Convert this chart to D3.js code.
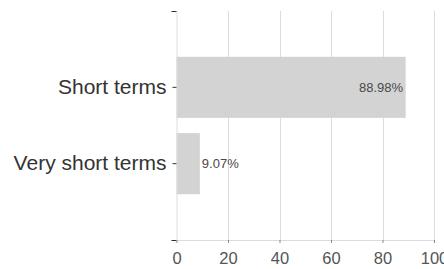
<!DOCTYPE html>
<html><head><meta charset="utf-8">
<script src="https://cdn.jsdelivr.net/npm/d3@7"></script>
<style>body{margin:0;background:#fff}svg{display:block}text{font-family:"Liberation Sans",Arial,sans-serif}</style>
</head><body><svg id="c" width="444" height="269"></svg>
<script>
const categories = ["Short terms", "Very short terms"];
const values = [88.98, 9.07];
const valueLabels = ["88.98%", "9.07%"];
const xTicks = [0, 20, 40, 60, 80, 100];

const svg = d3.select("#c");
const m = {left: 176.5, right: 10, top: 11, bottom: 29};
const W = 444, H = 269;
const x = d3.scaleLinear().domain([0, 100]).range([m.left, 434]);
const y = d3.scaleBand().domain(categories).range([m.top, H - m.bottom]).paddingInner(0.2).paddingOuter(0.6);

// gridlines
svg.append("g").selectAll("line").data(xTicks.slice(1)).join("line")
  .attr("x1", d => Math.round(x(d)) + 0.5).attr("x2", d => Math.round(x(d)) + 0.5)
  .attr("y1", m.top).attr("y2", H - m.bottom)
  .attr("stroke", "#dcdcdc").attr("stroke-width", 1);

// bars
svg.append("g").selectAll("rect").data(categories).join("rect")
  .attr("x", x(0)).attr("y", d => y(d))
  .attr("width", (d, i) => x(values[i]) - x(0))
  .attr("height", y.bandwidth())
  .attr("fill", "#d3d3d3");

// value labels
svg.append("g").selectAll("text").data(categories).join("text")
  .attr("x", (d, i) => values[i] > 50 ? x(values[i]) - 2.5 : x(values[i]) + 2)
  .attr("y", d => y(d) + y.bandwidth() / 2)
  .attr("dy", "0.35em")
  .attr("text-anchor", (d, i) => values[i] > 50 ? "end" : "start")
  .attr("font-size", 13).attr("fill", "#4a4a4a")
  .text((d, i) => valueLabels[i]);

// x axis
const xa = svg.append("g").attr("transform", `translate(0,${H - m.bottom})`)
  .call(d3.axisBottom(x).tickValues(xTicks).tickSize(3).tickSizeOuter(0).tickPadding(9));
xa.select(".domain").attr("stroke", "#dcdcdc");
xa.selectAll(".tick line").attr("stroke", "#888");
xa.selectAll("text").attr("font-size", 16.5).attr("fill", "#555").attr("font-family", '"Liberation Sans",Arial,sans-serif');

// y axis
const ya = svg.append("g").attr("transform", `translate(${m.left},0)`)
  .call(d3.axisLeft(y).tickSize(4).tickSizeOuter(5).tickPadding(6));
ya.select(".domain").attr("stroke", "#dcdcdc");
ya.selectAll(".tick line").attr("stroke", "#333");
ya.selectAll("text").attr("font-size", 21).attr("fill", "#333").attr("font-family", '"Liberation Sans",Arial,sans-serif');
// outer ticks (dark)
svg.append("g").selectAll("line").data([m.top, H - m.bottom]).join("line")
  .attr("x1", m.left - 5).attr("x2", m.left).attr("y1", d => d + 0.5).attr("y2", d => d + 0.5)
  .attr("stroke", "#333");
</script></body></html>
